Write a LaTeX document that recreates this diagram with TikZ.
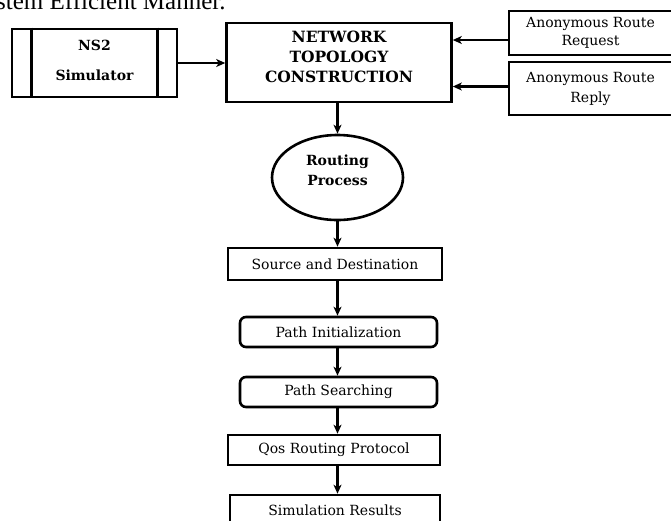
\documentclass[tikz,border=0pt]{standalone}
\usepackage{fontspec}
\setmainfont{DejaVu Serif}
\newfontfamily\capfont{Liberation Serif}
\usetikzlibrary{arrows.meta,shapes.geometric}
\begin{document}
\begin{tikzpicture}[x=1pt,y=-1pt,
  box/.style={draw,line width=2.6pt,inner sep=0pt},
  rbox/.style={box,rounded corners=6pt},
  arr/.style={line width=2.4pt,-{Stealth[length=9pt,width=8pt,inset=2.5pt]}},
  lbl/.style={font=\fontsize{14}{18}\selectfont,align=center},
  blbl/.style={font=\bfseries\fontsize{14}{20}\selectfont,align=center,inner sep=0pt}
]
\useasboundingbox (0,0) rectangle (671,520);
\node[anchor=base west,inner sep=0pt,font=\capfont\fontsize{25}{28}\selectfont] (cap) at (-4,9.5) {stem Efficient Manner.};

% NS2 simulator
\node[box,minimum width=165pt,minimum height=68pt] (ns2) at (94.5,63) {};
\draw[line width=2.6pt] ([xshift=21pt]ns2.north west) -- ([xshift=21pt]ns2.south west);
\draw[line width=2.6pt] ([xshift=-21pt]ns2.north east) -- ([xshift=-21pt]ns2.south east);
\node[blbl,font=\bfseries\fontsize{14}{30}\selectfont] (ns2t) at ([yshift=3pt]ns2.center) {NS2\\Simulator};

% network topology construction
\node[box,minimum width=225pt,minimum height=79pt] (net) at (339,62.5) {};
\node[blbl,font=\bfseries\fontsize{15.5}{20}\selectfont] (nett) at ([yshift=5.5pt]net.center) {NETWORK\\TOPOLOGY\\CONSTRUCTION};

% anonymous route boxes
\node[box,lbl,minimum width=163pt,minimum height=44pt] (req) at (590.5,33) {Anonymous Route\\Request};
\node[box,lbl,font=\fontsize{14}{20}\selectfont,minimum width=163pt,minimum height=53pt] (rep) at (590.5,88.5) {Anonymous Route\\Reply};

% routing process
\node[ellipse,draw,line width=2.6pt,minimum width=131pt,minimum height=85pt,inner sep=0pt] (rp) at (337.5,177.5) {};
\node[blbl] (rpt) at ([yshift=7pt]rp.center) {Routing\\Process};

% chain
\node[box,lbl,minimum width=214pt,minimum height=32pt] (src) at (335,264) {Source and Destination};
\node[rbox,lbl,minimum width=197pt,minimum height=30pt] (init) at (338.5,332) {Path Initialization};
\node[rbox,lbl,minimum width=197pt,minimum height=30pt] (search) at (338.5,392) {Path Searching};
\node[box,lbl,minimum width=212pt,minimum height=30pt] (qos) at (334,450) {Qos Routing Protocol};
\node[box,lbl,minimum width=210pt,minimum height=30pt] (sim) at (335,510) {Simulation Results};

% connectors
\draw[arr] (ns2.east) -- (ns2.east -| net.west);
\draw[arr] ([yshift=-7pt]req.west) -- ([yshift=-7pt]req.west -| net.east);
\draw[arr] ([yshift=2pt]rep.west) -- ([yshift=2pt]rep.west -| net.east);
\draw[arr] (rp.north |- net.south) -- (rp.north);
\draw[arr] (rp.south) -- (rp.south |- src.north);
\draw[arr] (rp.south |- src.south) -- (rp.south |- init.north);
\draw[arr] (rp.south |- init.south) -- (rp.south |- search.north);
\draw[arr] (rp.south |- search.south) -- (rp.south |- qos.north);
\draw[arr] (rp.south |- qos.south) -- (rp.south |- sim.north);
\end{tikzpicture}
\end{document}
